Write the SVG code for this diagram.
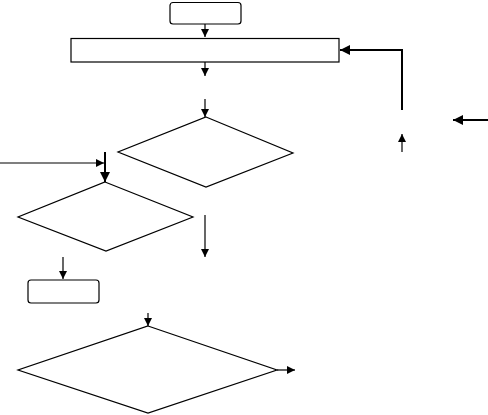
<svg xmlns="http://www.w3.org/2000/svg" width="488" height="415" viewBox="0 0 488 415">
<style>
.s{fill:#fff;stroke:#000;stroke-width:1.2}
.c{fill:none;stroke:#000;stroke-width:1.2}
.t{stroke-width:2}
</style>
<defs>
<marker id="a" viewBox="0 0 10 10" refX="10" refY="5" markerWidth="8" markerHeight="8" markerUnits="userSpaceOnUse" orient="auto"><path d="M0,0L10,5L0,10z" fill="#000"/></marker>
<marker id="b" viewBox="0 0 10 10" refX="10" refY="5" markerWidth="5" markerHeight="5" orient="auto"><path d="M0,0L10,5L0,10z" fill="#000"/></marker>
</defs>
<g id="n1"><rect class="s" x="170" y="2.5" width="71" height="21.5" rx="3"/></g>
<g id="n2"><rect class="s" x="71" y="38.5" width="268" height="23.5"/></g>
<g id="n3"><polygon class="s" points="206,117 293,153 206,187 118,152"/></g>
<g id="n4"><polygon class="s" points="105,182 193,217 106,251 18,217"/></g>
<g id="n5"><rect class="s" x="28" y="280" width="71" height="23" rx="3"/></g>
<g id="n6"><polygon class="s" points="148,326 277,370 148,413 18,370"/></g>
<g id="edges">
<line class="c" x1="205" y1="24" x2="205" y2="37" marker-end="url(#a)"/>
<line class="c" x1="205" y1="62" x2="205" y2="76" marker-end="url(#a)"/>
<line class="c" x1="205" y1="99" x2="205" y2="117" marker-end="url(#a)"/>
<polyline class="c" points="402,110 402,50 340,50" marker-end="url(#b)" style="stroke-width:2"/>
<line class="c" x1="402" y1="152" x2="402" y2="134" marker-end="url(#a)"/>
<line class="c t" x1="488" y1="120" x2="453" y2="120" marker-end="url(#b)"/>
<line class="c" x1="0" y1="163" x2="104" y2="163" marker-end="url(#a)"/>
<line class="c t" x1="105" y1="152" x2="105" y2="182" marker-end="url(#b)"/>
<line class="c" x1="205" y1="215" x2="205" y2="257" marker-end="url(#a)"/>
<line class="c" x1="63" y1="257" x2="63" y2="279" marker-end="url(#a)"/>
<line class="c" x1="148" y1="313" x2="148" y2="326" marker-end="url(#a)"/>
<line class="c" x1="277" y1="370" x2="295" y2="370" marker-end="url(#a)"/>
</g>
</svg>
